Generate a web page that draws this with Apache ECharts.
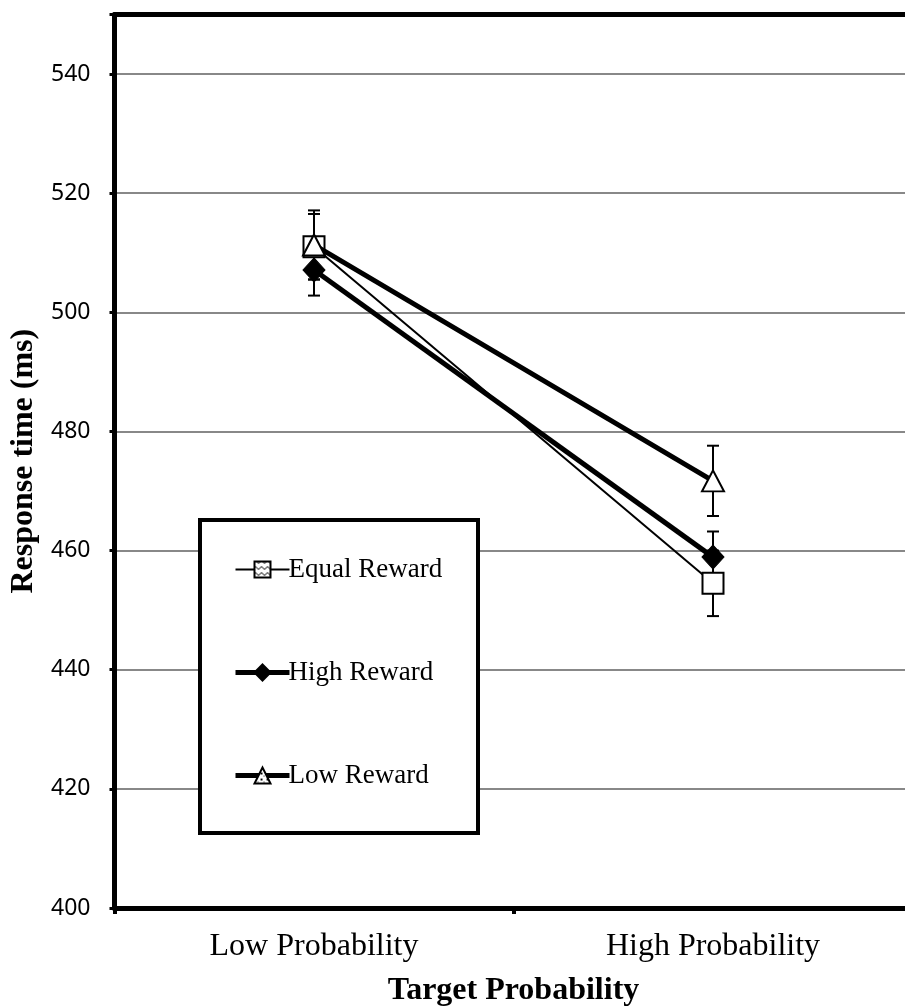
<!DOCTYPE html>
<html>
<head>
<meta charset="utf-8">
<script src="https://cdn.jsdelivr.net/npm/echarts@6/dist/echarts.min.js"></script>
<style>
  html, body { margin: 0; padding: 0; background: #fff; }
  #chart { width: 905px; height: 1007px; }
</style>
</head>
<body>
<div id="chart"></div>
<script>
// Mean response times by target probability and reward condition
const categories = ['Low Probability', 'High Probability'];
const seriesNames = ['Equal Reward', 'High Reward', 'Low Reward'];
const equalReward = [511.0, 454.5];
const highReward = [507.1, 458.9];
const lowReward = [511.3, 471.7];
// Half-width of each error bar (ms)
const equalErr = [5.5, 5.5];
const highErr = [4.3, 4.3];
const lowErr = [5.8, 5.9];
const yTicks = [400, 420, 440, 460, 480, 500, 520, 540];

const serif = '"Liberation Serif", "Times New Roman", serif';
const sans = '"Noto Sans", "Open Sans", sans-serif';

// Small fill patterns for the hollow markers
function makePattern(draw) {
  const c = document.createElement('canvas');
  c.width = 6; c.height = 6;
  const g = c.getContext('2d');
  g.fillStyle = '#fff';
  g.fillRect(0, 0, 6, 6);
  g.fillStyle = '#000';
  draw(g);
  return { image: c, repeat: 'repeat' };
}
const wavePattern = makePattern(g => {
  g.fillRect(0, 2, 1, 1); g.fillRect(1, 1, 1, 1); g.fillRect(2, 1, 1, 1);
  g.fillRect(3, 2, 1, 1); g.fillRect(4, 3, 1, 1); g.fillRect(5, 3, 1, 1);
});
const dotPattern = makePattern(g => {
  g.fillRect(1, 1, 2, 2); g.fillRect(4, 4, 1, 1);
});

function errorData(vals, errs) {
  return vals.map((v, i) => [i, v - errs[i], v + errs[i]]);
}

function errorBars(name, vals, errs) {
  return {
    type: 'custom',
    name: name + ' error',
    z: 1,
    silent: true,
    renderItem: function (params, api) {
      const lo = api.coord([api.value(0), api.value(1)]);
      const hi = api.coord([api.value(0), api.value(2)]);
      const half = 6;
      const style = { stroke: '#000', lineWidth: 2 };
      return {
        type: 'group',
        children: [
          { type: 'line', shape: { x1: lo[0], y1: lo[1], x2: hi[0], y2: hi[1] }, style },
          { type: 'line', shape: { x1: hi[0] - half, y1: hi[1], x2: hi[0] + half, y2: hi[1] }, style },
          { type: 'line', shape: { x1: lo[0] - half, y1: lo[1], x2: lo[0] + half, y2: lo[1] }, style }
        ]
      };
    },
    encode: { x: 0, y: [1, 2] },
    data: errorData(vals, errs)
  };
}

const lineWidths = [2, 5, 5];

const chart = echarts.init(document.getElementById('chart'), null, { renderer: 'canvas' });

chart.setOption({
  animation: false,
  backgroundColor: '#fff',
  grid: {
    left: 114.5, width: 798, top: 14.4, bottom: 99,
    outerBoundsMode: 'none', containLabel: false
  },
  xAxis: [{
    type: 'category',
    data: categories,
    boundaryGap: true,
    axisLine: { lineStyle: { color: '#000', width: 5 } },
    axisTick: { show: true, inside: false, length: 6, lineStyle: { color: '#000', width: 4 } },
    axisLabel: { color: '#000', fontFamily: serif, fontSize: 32, margin: 23 },
    name: 'Target Probability',
    nameLocation: 'middle',
    nameGap: 67,
    nameTextStyle: { color: '#000', fontFamily: serif, fontSize: 32, fontWeight: 'bold' }
  }, {
    // plain frame line along the top of the plot
    type: 'category',
    data: categories,
    position: 'top',
    axisLine: { lineStyle: { color: '#000', width: 5 } },
    axisTick: { show: false },
    axisLabel: { show: false }
  }],
  yAxis: {
    type: 'value',
    min: 400, max: 550, interval: 20,
    axisLine: { show: true, lineStyle: { color: '#000', width: 5 } },
    axisTick: { show: true, length: 5, lineStyle: { color: '#000', width: 3 } },
    axisLabel: {
      color: '#000', fontFamily: sans, fontSize: 23, margin: 24,
      formatter: v => (yTicks.indexOf(v) >= 0 ? String(v) : '')
    },
    splitLine: { show: true, lineStyle: { color: '#888', width: 2 } },
    name: 'Response time (ms)',
    nameLocation: 'middle',
    nameGap: 74,
    nameRotate: 90,
    nameTextStyle: { color: '#000', fontFamily: serif, fontSize: 32, fontWeight: 'bold' }
  },
  graphic: [{
    type: 'rect',
    left: 198, top: 518,
    shape: { width: 278, height: 313 },
    style: { fill: '#fff', stroke: '#000', lineWidth: 4 },
    z: 10
  }],
  legend: {
    show: true,
    orient: 'vertical',
    left: 233, top: 556,
    itemWidth: 54, itemHeight: 20,
    itemGap: 76,
    z: 20,
    padding: 0,
    textStyle: { color: '#000', fontFamily: serif, fontSize: 27, padding: [0, 0, 0, -6] },
    data: seriesNames.map((n, i) => ({ name: n, lineStyle: { width: lineWidths[i] } }))
  },
  series: [
    errorBars(seriesNames[0], equalReward, equalErr),
    errorBars(seriesNames[1], highReward, highErr),
    errorBars(seriesNames[2], lowReward, lowErr),
    {
      name: seriesNames[0], type: 'line', data: equalReward, z: 3,
      symbol: 'rect', symbolSize: 21,
      lineStyle: { color: '#000', width: lineWidths[0] },
      itemStyle: { color: wavePattern, borderColor: '#000', borderWidth: 2 }
    },
    {
      name: seriesNames[1], type: 'line', data: highReward, z: 4,
      symbol: 'diamond', symbolSize: [22, 24],
      lineStyle: { color: '#000', width: lineWidths[1] },
      itemStyle: { color: '#000', borderColor: '#000', borderWidth: 1 }
    },
    {
      name: seriesNames[2], type: 'line', data: lowReward, z: 5,
      symbol: 'triangle', symbolSize: [22, 21],
      lineStyle: { color: '#000', width: lineWidths[2] },
      itemStyle: { color: dotPattern, borderColor: '#000', borderWidth: 2 }
    }
  ]
});
</script>
</body>
</html>
